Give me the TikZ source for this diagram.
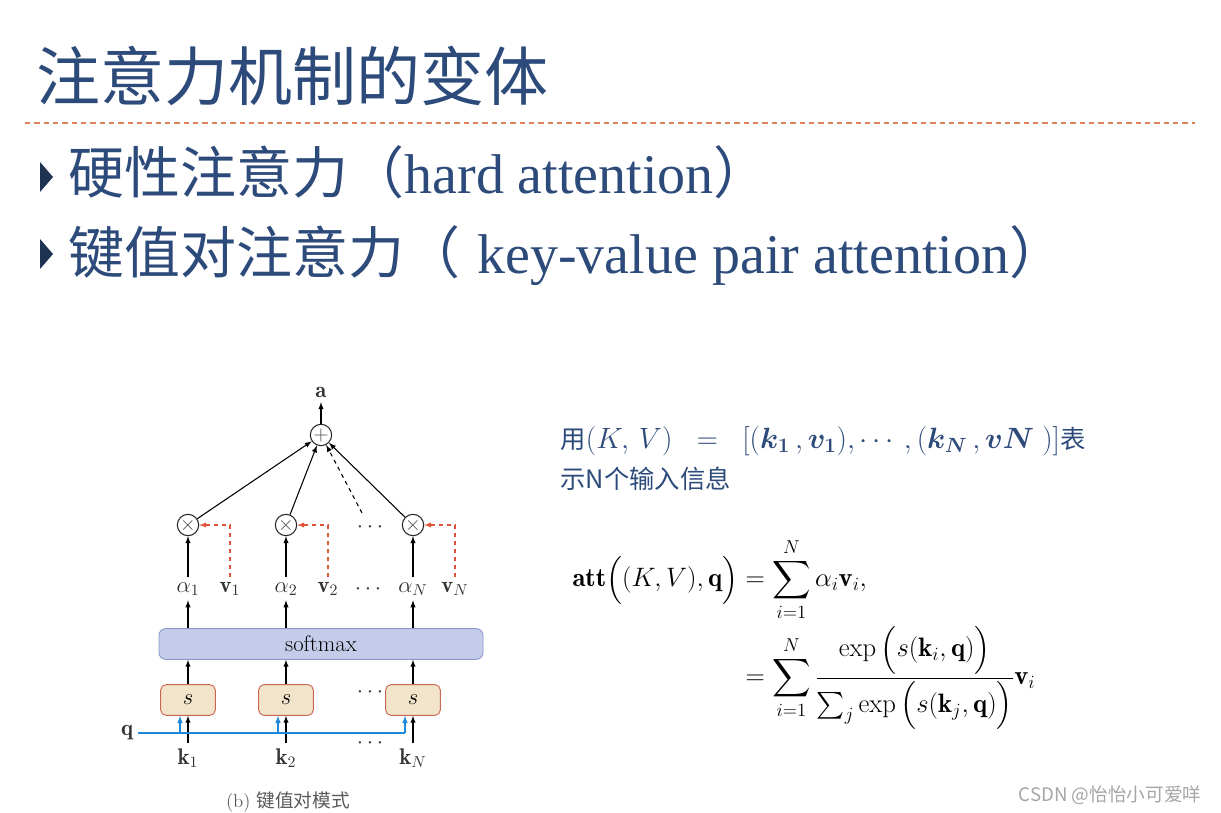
\documentclass[tikz,border=0pt]{standalone}
\usepackage{fix-cm}
\usepackage{amsmath,amssymb}
\usepackage{fontspec}
\newfontfamily\cjk{Noto Sans CJK SC}
\newfontfamily\garamond{Liberation Serif}
\usetikzlibrary{positioning,calc}
\definecolor{slideblue}{RGB}{44,74,122}
\definecolor{bulletblue}{RGB}{30,50,82}
\definecolor{rulecol}{RGB}{222,130,90}
\definecolor{valred}{RGB}{222,85,60}
\definecolor{qblue}{RGB}{30,136,216}
\begin{document}
\begin{tikzpicture}[x=0.75pt,y=-0.75pt,>=latex,
	lbl/.style={font=\fontsize{17}{20}\selectfont, text=black!80},
	opnode/.style={circle, draw=black!85, line width=0.8pt, inner sep=0pt,
		minimum size=16pt, text=black!70, font=\fontsize{15}{17}\selectfont},
	sbox/.style={draw={rgb,255:red,200;green,105;blue,85}, fill={rgb,255:red,242;green,228;blue,203},
		rounded corners=4pt, minimum width=41pt, minimum height=23pt, line width=0.7pt,
		font=\fontsize{17}{20}\selectfont},
	smbox/.style={draw={rgb,255:red,140;green,155;blue,200}, fill={rgb,255:red,197;green,204;blue,234},
		rounded corners=5pt, minimum width=243pt, minimum height=23pt, line width=0.7pt,
		font=\fontsize{17}{20}\selectfont},
	valline/.style={valred, dashed, line width=0.8pt},
	qline/.style={qblue, line width=0.9pt},
	every path/.style={line width=0.8pt}]
	\fill[white] (0,0) rectangle (1221,813);
	\useasboundingbox (0,0) rectangle (1221,813);
	% title
	\node[anchor=base west, inner sep=0pt, text=slideblue,
		font=\cjk\fontsize{48}{56}\selectfont] (title) at (36,101) {注意力机制的变体};
	\draw[rulecol, dash pattern=on 4pt off 3pt, line width=0.8pt] (25,123) -- (1195,123);
	% bullets
	\fill[bulletblue] (40,162) -- (53,177) -- (40,192) -- cycle;
	\fill[bulletblue] (40,239) -- (53,254) -- (40,269) -- cycle;
	\node[anchor=base west, inner sep=0pt, text=slideblue, font=\fontsize{42}{50}\selectfont]
		(hard) at (68,194) {{\cjk 硬性注意力（}{\garamond hard attention}{\cjk ）}};
	\node[anchor=base west, inner sep=0pt, text=slideblue, font=\fontsize{42}{50}\selectfont]
		(pair) at (68,273) {{\cjk 键值对注意力（} {\garamond key-value pair attention}{\cjk ）}};
	% key-value diagram
	\node[opnode] (plus) at (321,435) {$+$};
	\node[lbl] (a) at (321,392) {$\mathbf{a}$};
	\draw[->] (plus) -- (a);
	\node[smbox] (sm) at (321,644) {softmax};
	\foreach \x/\i/\n in {188/1/1,286/2/2,413/3/N}
		{
			\node[opnode] (m\i) at (\x,525) {$\times$};
			\node[lbl, anchor=base] (al\i) at (\x,592) {$\alpha_{\n}$};
			\node[lbl, anchor=base] (v\i) at (\x+42,592) {$\mathbf{v}_{\n}$};
			\node[sbox] (s\i) at (\x,700) {$s$};
			\node[lbl, anchor=base] (k\i) at (\x,764) {$\mathbf{k}_{\n}$};
			\coordinate (qx\i) at (\x-8,733);
			\draw[->] (al\i) -- (m\i);
			\draw[valline, ->] (v\i.north) |- (m\i.east);
			\draw[->] (al\i |- sm.north) -- (al\i);
			\draw[->] (s\i) -- (s\i |- sm.south);
			\draw[->] (k\i) -- (s\i);
			\draw[qline, ->] (qx\i) -- (qx\i |- s\i.south);
			\draw[->] (m\i) -- (plus);
		}
	\node[lbl] (dm) at (372,527) {$\cdots$};
	\node[lbl] (dal) at (370,589) {$\cdots$};
	\node[lbl] (ds) at (372,692) {$\cdots$};
	\node[lbl] (dk) at (372,743) {$\cdots$};
	\coordinate (dd) at (362,513);
	\draw[dashed, ->] (dd) -- (plus);
	\node[lbl] (q) at (127,733) {$\mathbf{q}$};
	\draw[qline] (q) -- (qx3);
	\node[text=black!65, font=\fontsize{14}{17}\selectfont] (cap) at (288,802) {(b) {\cjk 键值对模式}};
	% right-hand text
	\node[anchor=base west, inner sep=0pt, text=slideblue, font=\cjk\fontsize{19}{23}\selectfont]
		(kv) at (560,448) {用{\fontsize{22}{26}\selectfont$(K,\,V)\;\;=\;\;[(\boldsymbol{k_1}\,,\boldsymbol{v_1}),\cdots,(\boldsymbol{k_N}\,,\boldsymbol{vN}\;)]$}表};
	\node[anchor=base west, inner sep=0pt, text=slideblue, font=\cjk\fontsize{19}{23}\selectfont]
		(kv2) at (560,488) {示N个输入信息};
	\node[anchor=west, inner sep=0pt, font=\fontsize{20}{24}\selectfont] (att) at (572,634)
		{$\displaystyle\begin{aligned}
			\mathbf{att}\Big((K,V),\mathbf{q}\Big) &= \sum_{i=1}^{N}\alpha_i\mathbf{v}_i,\\
			&= \sum_{i=1}^{N}\frac{\exp\Big(s(\mathbf{k}_i,\mathbf{q})\Big)}{\sum_j\exp\Big(s(\mathbf{k}_j,\mathbf{q})\Big)}\mathbf{v}_i
		\end{aligned}$};
	\node[text=black!35, font=\cjk\fontsize{14}{17}\selectfont] (wm) at (1110,795) {CSDN @怡怡小可爱咩};
\end{tikzpicture}
\end{document}
